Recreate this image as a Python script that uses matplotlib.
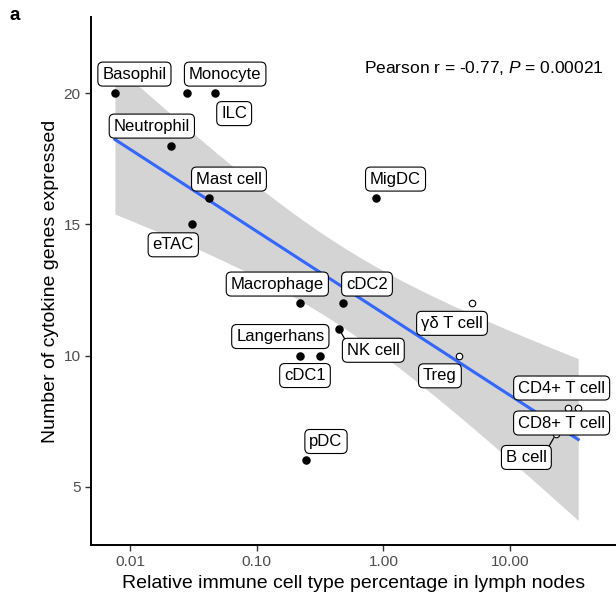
import numpy as np
import matplotlib
matplotlib.use("Agg")
import matplotlib.pyplot as plt

plt.rcParams['font.family'] = ['Liberation Sans', 'DejaVu Sans']
plt.rcParams['mathtext.fontset'] = 'custom'
plt.rcParams['mathtext.rm'] = 'Liberation Sans'
plt.rcParams['mathtext.it'] = 'Liberation Sans:italic'

# data
cells = ["Basophil", "Monocyte", "ILC", "Neutrophil", "Mast cell", "eTAC",
         "MigDC", "Macrophage", "cDC2", "Langerhans", "cDC1", "NK cell", "pDC",
         "γδ T cell", "Treg", "CD4+ T cell", "CD8+ T cell", "B cell"]
pct_lymph = [0.0076, 0.028, 0.047, 0.021, 0.042, 0.031,
             0.875, 0.221, 0.48, 0.221, 0.316, 0.449, 0.245,
             4.98, 3.97, 28.8, 34.5, 23.0]
n_cytokines = [20, 20, 20, 18, 16, 15,
               16, 12, 12, 10, 10, 11, 6,
               12, 10, 8, 8, 7]
adaptive = [False] * 13 + [True] * 5

x_ticks = [0.01, 0.1, 1, 10]
x_ticklabels = ["0.01", "0.10", "1.00", "10.00"]
y_ticks = [5, 10, 15, 20]

# label offsets in pixels (layout only)
offsets = {
    "Basophil": (19.5, 19), "Monocyte": (38.5, 19), "ILC": (19, -20.5),
    "Neutrophil": (-19, 19.5), "Mast cell": (20, 19), "eTAC": (-19, -20.5),
    "MigDC": (19.5, 19), "Macrophage": (-23, 19), "cDC2": (24, 19),
    "Langerhans": (-20, 19), "cDC1": (-15, -20), "NK cell": (34, -21),
    "pDC": (20, 19), "γδ T cell": (-19.7, -20.3), "Treg": (-19.3, -20.3),
    "CD4+ T cell": (-6.6, 20), "CD8+ T cell": (-16.6, -15), "B cell": (-29.5, -23.2),
}
# segments: where on the label box the line attaches
segments = {"NK cell": (0, 1), "B cell": (1, 1)}

x = np.array(pct_lymph)
y = np.array(n_cytokines, dtype=float)
lx = np.log10(x)

# linear fit on log10 x with 95% confidence band
n = len(lx)
slope, icept = np.polyfit(lx, y, 1)
resid = y - (slope * lx + icept)
s = np.sqrt(np.sum(resid ** 2) / (n - 2))
t16 = 2.1199
grid = np.linspace(lx.min(), lx.max(), 80)
fit = slope * grid + icept
se = s * np.sqrt(1 / n + (grid - lx.mean()) ** 2 / np.sum((lx - lx.mean()) ** 2))

fig = plt.figure(figsize=(6.16, 5.98), dpi=100)
ax = fig.add_axes([91 / 616, 1 - 545 / 598, (616 - 91) / 616, (545 - 17) / 598])

ax.fill_between(10 ** grid, fit - t16 * se, fit + t16 * se, color='#d4d4d4', lw=0, zorder=1)
ax.plot(10 ** grid, fit, color='#3366FF', lw=2.2, zorder=2)

ad = np.array(adaptive)
ax.scatter(x[~ad], y[~ad], s=26, color='black', zorder=3)
ax.scatter(x[ad], y[ad], s=22, facecolor='white', edgecolor='black', lw=0.8, zorder=3)

for name, xi, yi in zip(cells, x, y):
    dx, dy = offsets[name]
    arrow = None
    if name in segments:
        arrow = dict(arrowstyle='-', color='black', lw=0.9, shrinkA=0, shrinkB=3,
                     relpos=segments[name])
    ax.annotate(name, (xi, yi), xytext=(dx, dy), textcoords='offset pixels',
                ha='center', va='center', fontsize=12, zorder=5,
                bbox=dict(boxstyle='round,pad=0.27,rounding_size=0.3',
                          fc='white', ec='black', lw=0.8),
                arrowprops=arrow)

ax.text(0.977, 0.903, r"Pearson r = -0.77, $\it{P}$ = 0.00021", transform=ax.transAxes,
        ha='right', va='center', fontsize=12.5)

ax.set_xscale('log')
ax.set_xlim(0.00492, 68.6)
ax.set_ylim(2.78, 22.9)
ax.set_xticks(x_ticks)
ax.set_xticklabels(x_ticklabels)
ax.minorticks_off()
ax.set_yticks(y_ticks)
ax.tick_params(labelsize=11.1, labelcolor='#4d4d4d', color='#333333', length=4, width=1)

for side in ['top', 'right']:
    ax.spines[side].set_visible(False)
for side in ['left', 'bottom']:
    ax.spines[side].set_linewidth(1.4)

ax.set_xlabel("Relative immune cell type percentage in lymph nodes", fontsize=14, labelpad=4)
ax.set_ylabel("Number of cytokine genes expressed", fontsize=14, labelpad=3)

fig.text(10 / 616, 1 - 15 / 598, "a", fontsize=13.5, fontweight='bold', ha='left', va='center')

fig.savefig("out.png", dpi=100)
